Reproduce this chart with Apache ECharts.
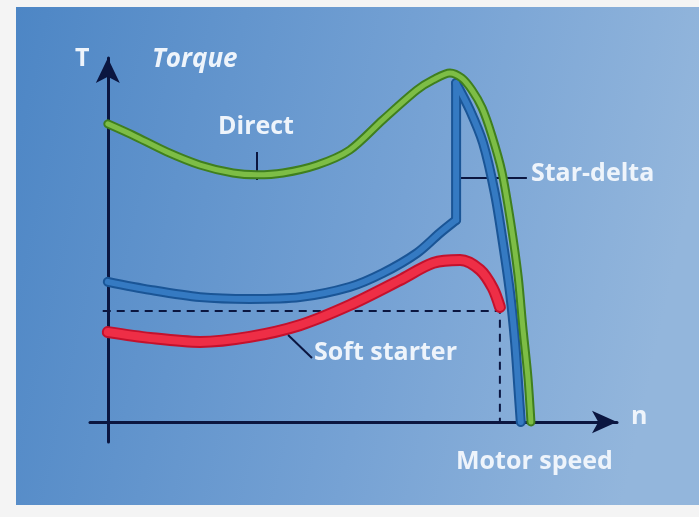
<!DOCTYPE html>
<html>
<head>
<meta charset="utf-8">
<script src="https://cdn.jsdelivr.net/npm/echarts@6/dist/echarts.min.js"></script>
<style>
  html, body { margin: 0; padding: 0; background: #f4f4f4; }
  #main { width: 699px; height: 517px; }
</style>
</head>
<body>
<div id="main"></div>
<script>
// 转矩-转速曲线（数值按图估读，单位为百分比）
const speedDirect = [0, 4.9, 11.6, 18.1, 24.6, 29.3, 34.4, 41.1, 47.5, 54.0, 60.7, 63.9, 67.2, 69.5, 71.5, 73.5, 75.4, 77.4, 79.2, 80.6, 81.5, 82.5, 83.1];
const torqueDirect = [81.9, 78.8, 74.2, 70.6, 68.4, 67.9, 68.4, 70.6, 74.7, 83.0, 91.2, 94.0, 95.9, 94.5, 91.2, 86.3, 78.8, 68.7, 54.1, 39.8, 26.1, 12.4, 0];

// 星形启动段
const speedStar = [0, 8.3, 18.1, 27.9, 37.7, 47.5, 54.0, 60.7, 65.2, 68.4];
const torqueStar = [38.5, 36.3, 34.3, 33.8, 34.3, 37.1, 40.9, 46.4, 51.9, 55.5];
// 切换瞬间
const speedSwitch = [68.4, 68.4];
const torqueSwitch = [55.5, 93.1];
// 三角形运行段
const speedDelta = [68.4, 71.1, 73.7, 76.0, 77.6, 79.0, 80.0, 80.7, 81.1];
const torqueDelta = [93.1, 85.7, 76.6, 62.9, 49.2, 35.4, 21.7, 8.0, 0];

// 软启动
const speedSoft = [0, 8.3, 18.1, 27.9, 37.7, 47.5, 57.4, 63.9, 69.2, 73.1, 75.6, 77.0];
const torqueSoft = [24.7, 23.1, 22.0, 23.4, 26.6, 32.1, 39.0, 43.7, 44.5, 41.8, 36.8, 31.6];

// 限流虚线
const limitSpeed = [-1, 77.0, 77.0];
const limitTorque = [30.5, 30.5, 0];

const axisColor = '#0b1640';
const textColor = '#eef4fb';
const labelFont = 'bold 25px "Open Sans"';

function pairs(xs, ys) {
  return xs.map((x, i) => [x, ys[i]]);
}

// 两层线条做出管状效果
function tube(name, xs, ys, dark, light, width, smooth, z) {
  const data = pairs(xs, ys);
  const base = { type: 'line', data: data, smooth: smooth, symbol: 'none' };
  return [
    Object.assign({}, base, {
      name: name, z: z,
      lineStyle: { color: dark, width: width, cap: 'round', join: 'round' }
    }),
    Object.assign({}, base, {
      name: name + '-hi', z: z + 1,
      lineStyle: { color: light, width: width - 4, cap: 'round', join: 'round' }
    })
  ];
}

const chart = echarts.init(document.getElementById('main'), null, { renderer: 'canvas' });

const green = ['#3f7f1e', '#7dbd46'];
const blue = ['#1a5596', '#357ac2'];
const red = ['#c4112c', '#ee2e46'];

const series = [
  {
    name: 'limit', type: 'line', data: pairs(limitSpeed, limitTorque), symbol: 'none', z: 1,
    lineStyle: { color: axisColor, width: 2, type: [8, 6] },
    markLine: {
      silent: true, symbol: 'none', animation: false,
      lineStyle: { color: axisColor, width: 2, type: 'solid' },
      label: { show: false },
      data: [
        [{ coord: [29.3, 74.2] }, { coord: [29.3, 66.5] }],
        [{ coord: [68.2, 67.0] }, { coord: [82.3, 67.0] }],
        [{ coord: [35.4, 23.9] }, { coord: [40.1, 17.6] }]
      ]
    }
  }
]
  .concat(tube('Soft starter', speedSoft, torqueSoft, red[0], red[1], 12, 0.3, 4))
  .concat(tube('Star', speedStar, torqueStar, blue[0], blue[1], 10, 0.3, 6))
  .concat(tube('Switch', speedSwitch, torqueSwitch, blue[0], blue[1], 10, false, 6))
  .concat(tube('Delta', speedDelta, torqueDelta, blue[0], blue[1], 10, 0.3, 6))
  .concat(tube('Direct', speedDirect, torqueDirect, green[0], green[1], 9, 0.3, 8));

chart.setOption({
  animation: false,
  backgroundColor: '#f4f4f4',
  grid: { left: 90, right: 82, top: 58, bottom: 75 },
  xAxis: {
    type: 'value', min: -3.5, max: 100,
    axisLine: { show: true, onZero: true, symbol: ['none', 'arrow'], symbolSize: [17, 25], lineStyle: { color: axisColor, width: 3 } },
    axisTick: { show: false }, axisLabel: { show: false }, splitLine: { show: false }
  },
  yAxis: {
    type: 'value', min: -5.5, max: 100,
    axisLine: { show: true, onZero: true, symbol: ['none', 'arrow'], symbolSize: [18, 25], lineStyle: { color: axisColor, width: 3 } },
    axisTick: { show: false }, axisLabel: { show: false }, splitLine: { show: false }
  },
  graphic: [
    {
      type: 'rect', z: -10, silent: true,
      shape: { x: 16, y: 7, width: 683, height: 498 },
      style: {
        fill: new echarts.graphic.LinearGradient(0, 0, 1, 0.3, [
          { offset: 0, color: '#4d86c5' },
          { offset: 0.6, color: '#76a2d4' },
          { offset: 1, color: '#93b6dc' }
        ])
      }
    },
    { type: 'text', left: 75, top: 46, style: { text: 'T', fill: textColor, font: labelFont } },
    { type: 'text', left: 152, top: 47, style: { text: 'Torque', fill: textColor, font: 'italic bold 26px "Open Sans"' } },
    { type: 'text', left: 218, top: 114, style: { text: 'Direct', fill: textColor, font: labelFont } },
    { type: 'text', left: 531, top: 161, style: { text: 'Star-delta', fill: textColor, font: labelFont } },
    { type: 'text', left: 314, top: 340, style: { text: 'Soft starter', fill: textColor, font: labelFont } },
    { type: 'text', left: 631, top: 404, style: { text: 'n', fill: textColor, font: labelFont } },
    { type: 'text', left: 456, top: 449, style: { text: 'Motor speed', fill: textColor, font: labelFont } }
  ],
  series: series
});
</script>
</body>
</html>
